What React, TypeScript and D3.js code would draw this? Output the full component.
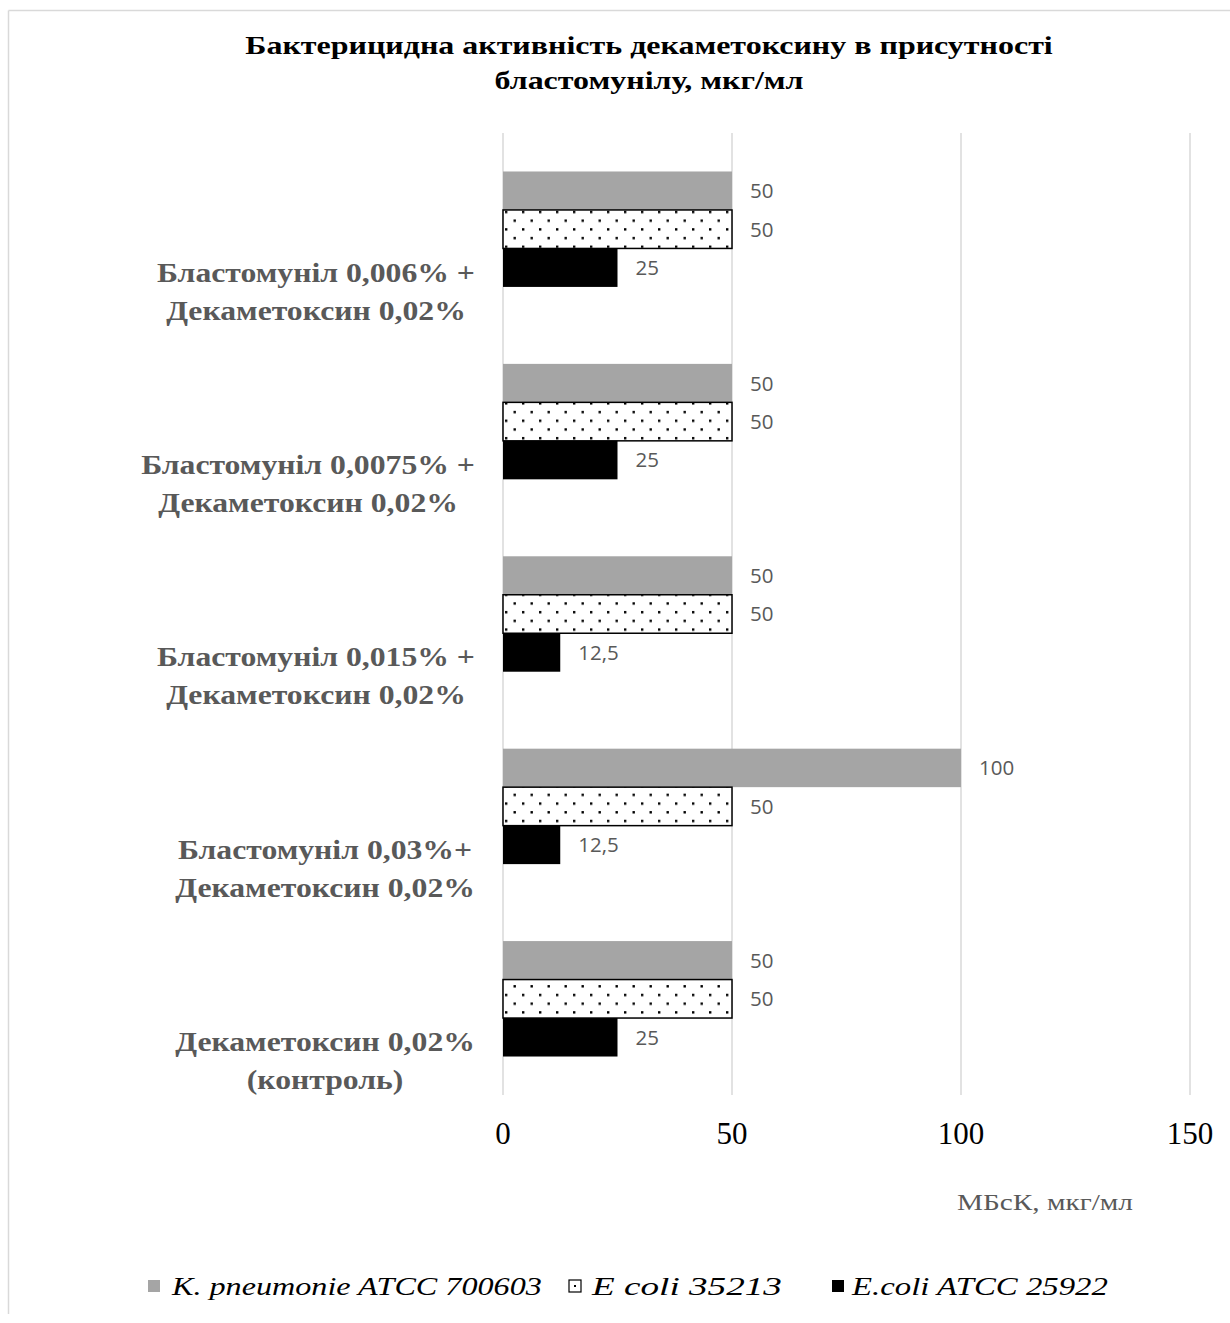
import React, { useEffect, useRef } from "react";
import * as d3 from "d3";

const categories: string[][] = [
  ["Бластомуніл 0,006% +", "Декаметоксин 0,02%"],
  ["Бластомуніл 0,0075% +", "Декаметоксин 0,02%"],
  ["Бластомуніл 0,015% +", "Декаметоксин 0,02%"],
  ["Бластомуніл 0,03%+", "Декаметоксин 0,02%"],
  ["Декаметоксин 0,02%", "(контроль)"],
];
const seriesNames = ["K. pneumonie ATCC 700603", "E coli 35213", "E.coli ATCC 25922"];
const kPneumonie = [50, 50, 50, 100, 50];
const eColi35213 = [50, 50, 50, 50, 50];
const eColi25922 = [25, 25, 12.5, 12.5, 25];
const xTicks = [0, 50, 100, 150];
const titleLines = ["Бактерицидна активність декаметоксину в присутності", "бластомунілу, мкг/мл"];
const axisTitle = "МБсК, мкг/мл";

const W = 1230;
const H = 1323;

export default function App() {
  const ref = useRef<SVGSVGElement | null>(null);

  useEffect(() => {
    const svg = d3.select(ref.current);
    svg.selectAll("*").remove();

    const serif = "'Liberation Serif', 'Times New Roman', serif";
    const sans = "'Open Sans', 'Noto Sans', sans-serif";

    const stretchText = (
      parent: d3.Selection<any, any, any, any>,
      str: string,
      x: number,
      y: number,
      attrs: Record<string, string | number>,
      anchor: string
    ) => {
      const g = parent.append("g").attr("transform", `translate(${x},${y})`);
      const t = g.append("text").attr("text-anchor", anchor).text(str);
      Object.entries(attrs).forEach(([k, v]) => t.attr(k, v));
      return { g, t, len: (t.node() as SVGTextElement).getComputedTextLength() };
    };

    const defs = svg.append("defs");
    const pat = defs
      .append("pattern")
      .attr("id", "dots")
      .attr("patternUnits", "userSpaceOnUse")
      .attr("width", 17)
      .attr("height", 17.4)
      .attr("x", 504)
      .attr("y", 0);
    pat.append("rect").attr("width", 17).attr("height", 17.4).attr("fill", "#fff");
    pat.append("rect").attr("x", 1).attr("y", 2).attr("width", 2.4).attr("height", 2.4).attr("fill", "#000");
    pat.append("rect").attr("x", 9.5).attr("y", 10.7).attr("width", 2.4).attr("height", 2.4).attr("fill", "#000");

    svg.append("rect").attr("width", W).attr("height", H).attr("fill", "#fff");
    svg.append("line").attr("x1", 8.5).attr("x2", 8.5).attr("y1", 10.5).attr("y2", 1314).attr("stroke", "#D9D9D9").attr("stroke-width", 1.5);
    svg.append("line").attr("x1", 8.5).attr("x2", W).attr("y1", 10.5).attr("y2", 10.5).attr("stroke", "#D9D9D9").attr("stroke-width", 1.5);

    // title
    const titleAttrs = { "font-family": serif, "font-weight": "bold", "font-size": 25.5, fill: "#000" };
    const tItems = titleLines.map((t, i) => stretchText(svg, t, 649, 54 + i * 35, titleAttrs, "middle"));
    const tsx = 808 / tItems[0].len;
    tItems.forEach((it) => it.t.attr("transform", `scale(${tsx},1)`));

    const x = d3.scaleLinear().domain([0, 150]).range([503, 1190]);
    const y = d3
      .scaleBand<number>()
      .domain(d3.range(categories.length))
      .range([133, 1095])
      .paddingInner(0.4)
      .paddingOuter(0.2);
    const ys = d3.scaleBand<number>().domain([0, 1, 2]).range([0, y.bandwidth()]);

    svg
      .append("g")
      .selectAll("line")
      .data(xTicks)
      .join("line")
      .attr("x1", (d) => x(d))
      .attr("x2", (d) => x(d))
      .attr("y1", 133)
      .attr("y2", 1095)
      .attr("stroke", "#D9D9D9")
      .attr("stroke-width", 1.5);

    svg
      .append("g")
      .selectAll("text")
      .data(xTicks)
      .join("text")
      .attr("x", (d) => x(d))
      .attr("y", 1144)
      .attr("text-anchor", "middle")
      .attr("font-family", serif)
      .attr("font-size", 31)
      .attr("fill", "#000")
      .text((d) => String(d));

    const series = [kPneumonie, eColi35213, eColi25922];
    const fills = ["#A5A5A5", "url(#dots)", "#000"];
    const fmt = (v: number) => String(v).replace(".", ",");

    series.forEach((vals, si) => {
      const g = svg.append("g");
      g.selectAll("rect")
        .data(vals)
        .join("rect")
        .attr("x", x(0))
        .attr("y", (_, i) => (y(i) as number) + (ys(si) as number))
        .attr("width", (d) => x(d) - x(0))
        .attr("height", ys.bandwidth())
        .attr("fill", fills[si])
        .attr("stroke", si === 1 ? "#000" : "none")
        .attr("stroke-width", si === 1 ? 1.5 : 0);
      g.selectAll("text")
        .data(vals)
        .join("text")
        .attr("x", (d) => x(d) + 18)
        .attr("y", (_, i) => (y(i) as number) + (ys(si) as number) + ys.bandwidth() / 2)
        .attr("dy", "0.36em")
        .attr("font-family", sans)
        .attr("font-size", 20.5)
        .attr("fill", "#595959")
        .text((d) => fmt(d));
    });

    // category labels
    const catFont = 27;
    const catAttrs = { "font-family": serif, "font-weight": "bold", "font-size": catFont, fill: "#595959", dy: "0.35em" };
    const probe = svg.append("text").attr("font-family", serif).attr("font-weight", "bold").attr("font-size", catFont).text(categories[0][0]);
    const csx = 318 / (probe.node() as SVGTextElement).getComputedTextLength();
    probe.remove();
    categories.forEach((lines, i) => {
      const cy = (y(i) as number) + y.bandwidth() / 2 + 62;
      const items = lines.map((l, li) =>
        stretchText(svg, l, 0, cy + (li - (lines.length - 1) / 2) * 38, catAttrs, "middle")
      );
      const maxW = Math.max(...items.map((it) => it.len)) * csx;
      const center = 475 - maxW / 2;
      items.forEach((it, li) => {
        it.g.attr("transform", `translate(${center},${cy + (li - (lines.length - 1) / 2) * 38})`);
        it.t.attr("transform", `scale(${csx},1)`);
      });
    });

    // axis title
    const at = stretchText(svg, axisTitle, 1045, 1210, { "font-family": serif, "font-size": 23, fill: "#595959" }, "middle");
    at.t.attr("transform", `scale(${176 / at.len},1)`);

    // legend
    const legendItems = [
      { sx: 148, tx: 172, w: 370, fill: "#A5A5A5", stroke: "none" },
      { sx: 569, tx: 592, w: 190, fill: "#fff", stroke: "#000" },
      { sx: 832, tx: 852, w: 256, fill: "#000", stroke: "none" },
    ];
    const legAttrs = { "font-family": serif, "font-style": "italic", "font-size": 26, fill: "#000", dy: "0.35em" };
    legendItems.forEach((it, i) => {
      svg
        .append("rect")
        .attr("x", it.sx)
        .attr("y", 1280)
        .attr("width", 12)
        .attr("height", 12)
        .attr("fill", it.fill)
        .attr("stroke", it.stroke)
        .attr("stroke-width", 1.2);
      if (i === 1) {
        svg.append("rect").attr("x", it.sx + 5).attr("y", 1285).attr("width", 2).attr("height", 2).attr("fill", "#000");
      }
      const lt = stretchText(svg, seriesNames[i], it.tx, 1286, legAttrs, "start");
      lt.t.attr("transform", `scale(${it.w / lt.len},1)`);
    });
  }, []);

  return (
    <svg
      ref={ref}
      width={W}
      height={H}
      style={{ position: "absolute", left: 0, top: 0, display: "block" }}
    />
  );
}
